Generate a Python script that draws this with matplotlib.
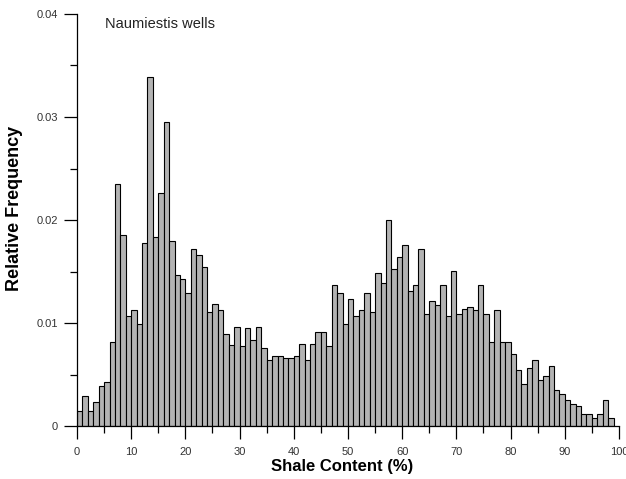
import numpy as np
import matplotlib
matplotlib.use("Agg")
import matplotlib.pyplot as plt

plt.rcParams["font.family"] = ["Liberation Sans", "DejaVu Sans"]

# relative frequency per 1% shale-content bin (0-1, 1-2, ... 98-99)
bin_left = np.arange(0, 99)
rel_freq = [
    0.00142, 0.00294, 0.00142, 0.00235, 0.00390, 0.00426, 0.00813, 0.02350, 0.01850, 0.01065,
    0.01123, 0.00987, 0.01777, 0.03390, 0.01832, 0.02258, 0.02952, 0.01794, 0.01465, 0.01429,
    0.01294, 0.01716, 0.01658, 0.01542, 0.01103, 0.01181, 0.01123, 0.00890, 0.00790, 0.00965,
    0.00774, 0.00948, 0.00832, 0.00965, 0.00755, 0.00639, 0.00680, 0.00680, 0.00658, 0.00658,
    0.00680, 0.00794, 0.00639, 0.00794, 0.00910, 0.00910, 0.00774, 0.01371, 0.01294, 0.00987,
    0.01235, 0.01065, 0.01123, 0.01294, 0.01103, 0.01487, 0.01390, 0.02003, 0.01526, 0.01639,
    0.01755, 0.01313, 0.01371, 0.01716, 0.01084, 0.01216, 0.01177, 0.01371, 0.01065, 0.01506,
    0.01084, 0.01139, 0.01158, 0.01123, 0.01371, 0.01084, 0.00813, 0.01123, 0.00813, 0.00813,
    0.00697, 0.00545, 0.00410, 0.00565, 0.00642, 0.00448, 0.00487, 0.00584, 0.00352, 0.00313,
    0.00255, 0.00216, 0.00197, 0.00119, 0.00119, 0.00081, 0.00119, 0.00255, 0.00081,
]

fig = plt.figure(figsize=(6.26, 4.79), dpi=100)
ax = fig.add_axes([0.123, 0.1106, 0.8658, 0.8602])

ax.bar(bin_left, rel_freq, width=1, align="edge", color="#b3b3b3",
       edgecolor="black", linewidth=0.8)

ax.set_xlim(0, 100)
ax.set_ylim(0, 0.04)
ax.spines["top"].set_visible(False)
ax.spines["right"].set_visible(False)
for s in ("left", "bottom"):
    ax.spines[s].set_linewidth(0.9)

ax.set_xticks(np.arange(0, 101, 10))
ax.set_xticks(np.arange(5, 100, 10), minor=True)
ax.set_yticks([0, 0.01, 0.02, 0.03, 0.04])
ax.set_yticklabels(["0", "0.01", "0.02", "0.03", "0.04"])
ax.set_yticks([0.005, 0.015, 0.025, 0.035], minor=True)
ax.tick_params(which="major", length=9.5, width=0.9, labelsize=8, colors="black",
               labelcolor="#333333")
ax.tick_params(axis="x", which="major", pad=5.5)
ax.tick_params(axis="y", which="major", pad=4.3)
ax.tick_params(which="minor", length=4.7, width=0.9)

ax.set_xlabel("Shale Content (%)", fontsize=12, fontweight="bold")
ax.set_ylabel("Relative Frequency", fontsize=13, fontweight="bold")
ax.xaxis.set_label_coords(0.49, -0.080)
ax.yaxis.set_label_coords(-0.100, 0.528)

ax.text(5.1, 0.0386, "Naumiestis wells", fontsize=10.5, va="baseline", ha="left",
        color="#222222")

fig.savefig("out.png", dpi=100)
